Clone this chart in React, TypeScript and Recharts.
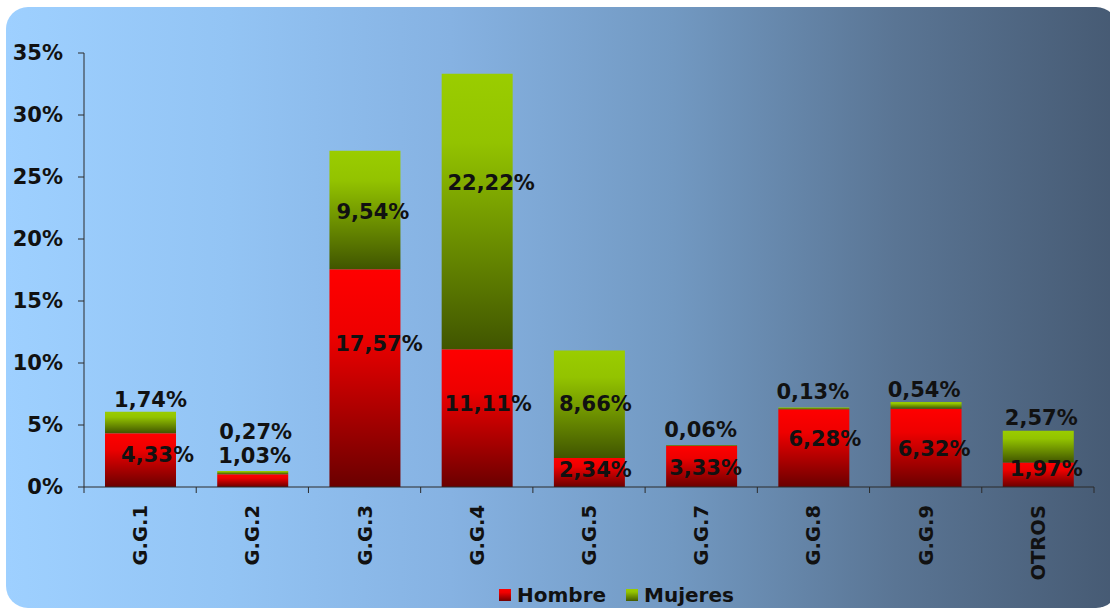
import { BarChart, Bar, XAxis, YAxis, Legend, LabelList } from "recharts";

const categories = ["G.G.1", "G.G.2", "G.G.3", "G.G.4", "G.G.5", "G.G.7", "G.G.8", "G.G.9", "OTROS"];
const hombre = [4.33, 1.03, 17.57, 11.11, 2.34, 3.33, 6.28, 6.32, 1.97];
const mujeres = [1.74, 0.27, 9.54, 22.22, 8.66, 0.06, 0.13, 0.54, 2.57];
const yTicks = [0, 5, 10, 15, 20, 25, 30, 35];

// label nudges (px) relative to segment centre, as the labels sit in the original
const hombreNudgeX = [17, 2, 14, 11, 6, 4, 11, 8, 8];
const hombreNudgeY = [-6, -25, -35, -15, -3, 1, -10, 1, -6];
const mujeresNudgeX = [10, 3, 8, 14, 6, -1, -1, -2, 3];
const mujeresNudgeY = [-23, -41, 2, -29, -1, -16, -17, -16, -29];

const W = 1110;
const H = 610;
const MARGIN = { top: 53, right: 16, left: 0, bottom: 0 };
const Y_AXIS_W = 84;
const X_AXIS_H = 93;
const LEGEND_H = 30;
const FONT = "'DejaVu Sans', Verdana, sans-serif";

const data = categories.map((name, i) => ({ name, hombre: hombre[i], mujeres: mujeres[i] }));

const fmt = (v: number) => v.toFixed(2).replace(".", ",") + "%";

const band = (W - MARGIN.left - MARGIN.right - Y_AXIS_W) / categories.length;

function CategoryTick(props: any) {
  const { x, y, payload, index } = props;
  const left = x - band / 2;
  return (
    <g>
      <line x1={left} x2={left} y1={y} y2={y + 6} stroke="#2b2b2b" strokeWidth={1} />
      {index === categories.length - 1 && (
        <line x1={x + band / 2} x2={x + band / 2} y1={y} y2={y + 6} stroke="#2b2b2b" strokeWidth={1} />
      )}
      <text
        x={x + 7}
        y={y + 18}
        transform={`rotate(-90, ${x + 7}, ${y + 18})`}
        textAnchor="end"
        fontFamily={FONT}
        fontWeight="bold"
        fontSize={19.5}
        fill="#111"
      >
        {payload.value}
      </text>
    </g>
  );
}

const makeLabel = (nx: number[], ny: number[]) => (props: any) => {
  const { x, y, width, height, value, index } = props;
  const cx = x + width / 2 + nx[index];
  const cy = y + height / 2 + ny[index];
  return (
    <text
      x={cx}
      y={cy + 7.5}
      textAnchor="middle"
      fontFamily={FONT}
      fontWeight="bold"
      fontSize={21}
      fill="#111"
    >
      {fmt(Number(value))}
    </text>
  );
};

function LegendBox() {
  const items = [
    { name: "Hombre", bg: "linear-gradient(#ff0000, #ee0000 30%, #700000)" },
    { name: "Mujeres", bg: "linear-gradient(#9acd00, #93c300 25%, #445a00)" },
  ];
  return (
    <div style={{ display: "flex", alignItems: "center", height: LEGEND_H }}>
      {items.map((it, i) => (
        <div key={it.name} style={{ display: "flex", alignItems: "center", marginRight: i === 0 ? 20 : 0 }}>
          <span style={{ width: 12, height: 12, background: it.bg, display: "inline-block", marginRight: 6 }} />
          <span style={{ fontFamily: FONT, fontWeight: "bold", fontSize: 20, color: "#111" }}>{it.name}</span>
        </div>
      ))}
    </div>
  );
}

export default function App() {
  return (
    <div style={{ position: "absolute", left: 0, top: 0, width: W, height: H, overflow: "hidden", background: "#fff" }}>
      <div
        style={{
          position: "absolute",
          left: 6,
          top: 7,
          width: 1112,
          height: 601,
          borderRadius: 22,
          background: "linear-gradient(to right, #9ed0ff 0%, #93c4f4 20%, #86b2e2 40%, #7299c2 60%, #5a7594 80%, #465a73 100%)",
        }}
      />
      <div style={{ position: "absolute", left: 0, top: 0 }}>
        <BarChart width={W} height={H} data={data} margin={MARGIN} barSize={71}>
          <defs>
            <linearGradient id="gRed" x1="0" y1="0" x2="0" y2="1">
              <stop offset="0%" stopColor="#ff0000" />
              <stop offset="30%" stopColor="#ee0000" />
              <stop offset="100%" stopColor="#6a0000" />
            </linearGradient>
            <linearGradient id="gGreen" x1="0" y1="0" x2="0" y2="1">
              <stop offset="0%" stopColor="#9acd00" />
              <stop offset="25%" stopColor="#93c300" />
              <stop offset="100%" stopColor="#405500" />
            </linearGradient>
          </defs>
          <XAxis
            dataKey="name"
            height={X_AXIS_H}
            interval={0}
            tickLine={false}
            tickSize={0}
            tickMargin={0}
            axisLine={{ stroke: "#2b2b2b", strokeWidth: 1 }}
            tick={<CategoryTick />}
          />
          <YAxis
            width={Y_AXIS_W}
            domain={[0, 35]}
            ticks={yTicks}
            interval={0}
            tickFormatter={(v: number) => `${v}%`}
            tickSize={6}
            tickMargin={15}
            axisLine={{ stroke: "#2b2b2b", strokeWidth: 1 }}
            tickLine={{ stroke: "#2b2b2b", strokeWidth: 1 }}
            tick={{ fontFamily: FONT, fontWeight: "bold", fontSize: 21, fill: "#111" }}
          />
          <Legend
            verticalAlign="bottom"
            height={LEGEND_H}
            wrapperStyle={{ left: 499, bottom: 0, width: "auto" }}
            content={<LegendBox />}
          />
          <Bar dataKey="hombre" name="Hombre" stackId="a" fill="url(#gRed)" isAnimationActive={false}>
            <LabelList dataKey="hombre" content={makeLabel(hombreNudgeX, hombreNudgeY)} />
          </Bar>
          <Bar dataKey="mujeres" name="Mujeres" stackId="a" fill="url(#gGreen)" isAnimationActive={false}>
            <LabelList dataKey="mujeres" content={makeLabel(mujeresNudgeX, mujeresNudgeY)} />
          </Bar>
        </BarChart>
      </div>
    </div>
  );
}
